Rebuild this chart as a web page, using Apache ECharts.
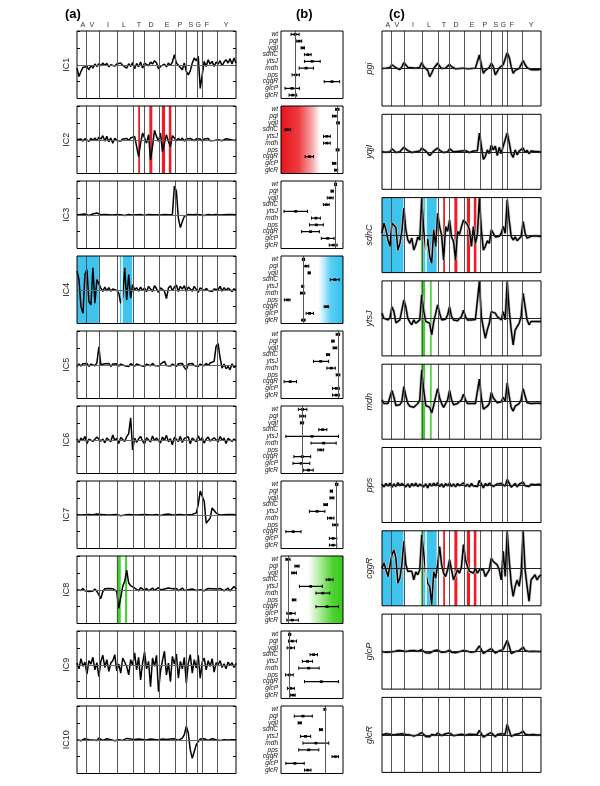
<!DOCTYPE html>
<html><head><meta charset="utf-8">
<script src="https://cdn.jsdelivr.net/npm/echarts@6/dist/echarts.min.js"></script>
<style>html,body{margin:0;padding:0;background:#fff}#c{width:600px;height:786px}</style>
</head><body><div id="c"></div>
<script>
// ---------- axis categories / ticks ----------
const residues = ['A','V','I','L','T','D','E','P','S','G','F','Y'];
const residueLabelPos = [2.9, 7.5, 15.6, 23.6, 31.2, 37.2, 45.3, 51.8, 57.3, 61, 65.4, 75];
const segmentBounds = [4.9, 11, 20, 28.4, 33.9, 41.2, 49.6, 55, 60.6, 63.1, 70.6];
const strains = ['wt','pgi','yqjI','sdhC','ytsJ','mdh','pps','cggR','glcP','glcR'];
const icNames = ['IC1','IC2','IC3','IC4','IC5','IC6','IC7','IC8','IC9','IC10'];
const cNames = ['pgi','yqjI','sdhC','ytsJ','mdh','pps','cggR','glcP','glcR'];

// ---------- (a) independent components ----------
const IC1 = [-0.10,-0.35,-0.20,-0.08,-0.12,-0.05,-0.15,-0.02,-0.10,0.02,
 -0.05,0.03,-0.03,0.05,-0.02,0.04,-0.06,0.00,0.03,-0.04,
 0.02,-0.03,0.05,-0.02,0.02,-0.10,0.03,-0.05,0.06,-0.12,
 0.04,-0.06,0.08,-0.10,0.05,0.10,-0.03,0.08,0.02,0.12,
 0.06,-0.12,-0.05,-0.10,0.02,-0.06,0.05,-0.02,0.08,0.30,
 0.05,0.02,-0.08,-0.15,0.05,-0.20,-0.30,-0.18,0.05,0.20,
 0.12,0.25,-0.70,-0.30,0.10,-0.05,0.15,0.02,0.10,-0.05,
 0.08,0.02,0.12,-0.03,0.08,0.15,0.05,0.18,0.02,0.20,
 0.05];
const IC2 = [0.00,-0.03,0.02,-0.04,0.03,0.00,-0.05,0.04,-0.02,0.05,
 -0.03,0.08,0.02,0.12,-0.04,0.10,-0.06,0.05,-0.10,0.04,
 -0.02,0.03,-0.04,0.02,-0.03,0.04,-0.02,0.05,0.02,0.10,
 0.05,-0.50,-0.10,0.20,0.05,-0.10,0.15,-0.60,-0.20,0.28,
 0.10,-0.05,0.20,-0.35,-0.10,0.15,-0.05,-0.20,0.12,0.05,
 -0.03,0.04,-0.02,0.05,-0.04,0.02,-0.03,0.04,0.00,-0.03,
 0.03,-0.02,0.02,-0.04,0.02,0.00,0.04,-0.03,0.02,-0.02,
 0.03,0.00,0.02,-0.03,0.02,0.03,-0.02,0.01,0.03,-0.02,
 0.00];
const IC3 = [0.00,-0.02,0.01,-0.01,0.02,0.00,-0.02,0.01,0.02,0.03,
 0.05,0.02,0.00,-0.01,0.01,-0.02,0.00,0.01,-0.01,0.00,
 0.01,-0.01,0.00,0.01,-0.02,0.00,0.01,0.00,-0.01,0.01,
 0.00,-0.01,0.01,0.00,-0.02,0.00,0.01,-0.01,0.00,0.01,
 0.00,-0.02,-0.01,0.00,0.01,-0.01,0.00,0.02,0.01,0.85,
 0.70,-0.10,-0.38,-0.20,-0.05,0.00,0.01,-0.01,0.00,0.02,
 0.01,-0.01,0.00,0.01,-0.02,0.00,0.01,0.00,-0.01,0.03,
 0.01,0.00,-0.01,0.01,0.00,-0.01,0.01,0.00,0.01,0.00,
 0.00];
const IC4 = [0.55,0.30,-0.50,-0.70,0.45,0.60,-0.35,-0.45,0.65,-0.40,
 0.30,0.35,0.05,-0.05,0.08,-0.03,0.06,-0.04,0.02,0.05,
 -0.02,-0.10,-0.40,-0.20,0.65,-0.30,0.45,-0.25,0.15,0.00,
 0.06,-0.04,0.08,-0.02,0.05,-0.06,0.10,0.02,-0.05,0.12,
 0.03,-0.08,0.06,0.10,-0.04,-0.26,0.05,0.12,-0.03,0.08,
 0.14,-0.05,0.10,0.02,0.12,-0.06,0.08,0.03,-0.04,0.10,
 0.05,-0.08,0.06,0.02,-0.03,0.04,-0.02,0.03,-0.05,0.02,
 0.04,0.00,0.10,-0.04,0.06,-0.02,0.05,0.00,-0.05,0.03,
 -0.02];
const IC5 = [-0.05,0.02,-0.04,0.03,-0.02,0.04,-0.05,0.02,0.03,-0.03,
 0.05,0.53,0.00,-0.04,0.03,-0.02,0.04,-0.05,0.02,-0.03,
 0.03,-0.04,0.02,0.05,-0.03,0.02,-0.05,0.03,0.00,-0.04,
 0.02,0.04,-0.02,0.03,-0.05,0.02,0.00,-0.03,0.04,-0.02,
 0.03,-0.04,0.02,0.05,0.10,-0.02,0.03,-0.04,0.02,0.00,
 -0.05,0.03,-0.02,0.04,-0.08,-0.15,0.02,-0.03,0.04,-0.02,
 0.03,-0.05,0.02,0.00,-0.03,0.04,-0.02,0.05,0.02,0.10,
 0.55,0.63,0.20,-0.10,0.02,-0.12,-0.05,-0.15,0.03,-0.08,
 -0.04];
const IC6 = [0.03,-0.08,0.05,-0.03,0.10,-0.12,0.02,0.06,-0.05,-0.10,
 0.08,0.12,-0.04,0.02,-0.09,0.05,0.00,-0.06,0.14,-0.02,
 0.04,-0.11,0.07,0.01,-0.05,0.09,0.18,0.65,-0.30,0.05,
 -0.08,0.03,0.10,-0.04,-0.12,0.06,0.02,-0.07,0.11,-0.03,
 0.05,0.00,-0.10,0.08,-0.02,0.13,-0.06,0.03,-0.15,0.07,
 0.02,-0.05,0.10,-0.08,0.04,-0.01,0.09,-0.12,0.05,0.00,
 -0.06,0.12,-0.03,0.07,-0.10,0.02,0.08,-0.04,-0.09,0.06,
 0.01,-0.07,0.10,-0.02,0.05,-0.11,0.04,0.08,-0.05,0.02,
 -0.03];
const IC7 = [0.00,0.02,-0.01,0.01,0.00,-0.02,0.01,0.03,0.00,-0.01,
 0.02,0.04,0.01,-0.02,0.00,0.01,-0.01,0.02,0.00,-0.02,
 0.01,0.00,-0.03,0.02,-0.01,0.00,0.01,-0.02,0.00,0.01,
 -0.01,0.02,0.00,-0.02,0.01,-0.01,0.00,0.02,-0.01,0.00,
 0.01,-0.04,-0.02,0.00,0.01,-0.01,0.02,0.00,-0.01,0.01,
 0.00,-0.02,0.01,0.00,-0.01,0.02,0.00,-0.01,0.01,0.02,
 0.05,0.30,0.70,0.65,0.40,-0.25,-0.30,-0.10,0.20,0.15,
 0.05,0.02,-0.01,0.01,0.00,-0.02,0.01,0.00,0.01,-0.01,
 0.00];
const IC8 = [0.00,0.03,-0.02,0.04,-0.03,0.02,-0.05,-0.08,-0.04,0.02,
 -0.05,-0.15,-0.26,-0.05,0.03,-0.02,0.04,-0.01,0.03,0.00,
 -0.05,-0.55,-0.60,0.10,0.25,0.58,0.20,0.12,0.15,0.05,
 0.10,-0.03,0.06,0.02,-0.02,0.04,-0.03,0.02,0.05,-0.02,
 0.03,0.06,-0.01,0.04,0.02,-0.03,0.05,0.00,0.03,-0.02,
 0.04,-0.03,0.02,0.05,-0.02,0.03,0.00,-0.04,0.02,0.04,
 -0.02,0.03,0.00,0.05,-0.03,0.02,0.04,-0.01,0.03,0.08,
 0.02,-0.02,0.04,0.00,-0.03,0.02,0.05,-0.04,0.03,0.10,
 0.02];
const IC9 = [0.05,-0.12,0.18,-0.05,0.08,-0.28,0.12,0.02,0.22,-0.15,
 0.06,-0.35,0.10,0.28,-0.08,0.15,-0.20,0.05,0.12,0.30,
 -0.18,0.02,-0.25,0.20,0.08,-0.05,-0.30,0.15,-0.02,0.35,
 -0.15,0.22,-0.45,0.05,0.38,-0.12,0.10,-0.65,0.20,-0.05,
 0.28,-0.80,-0.20,0.12,0.40,-0.30,0.05,-0.50,0.25,0.02,
 0.32,-0.40,0.10,-0.12,0.22,-0.55,0.05,0.30,-0.25,0.15,
 -0.10,0.28,-0.40,0.08,0.20,-0.15,0.12,-0.05,0.18,-0.22,
 0.06,0.00,0.12,-0.08,0.03,-0.12,0.08,-0.02,0.06,-0.08,
 0.04];
const IC10 = [0.00,0.02,-0.03,0.01,0.03,-0.02,0.00,0.02,-0.01,0.03,
 -0.02,0.05,0.00,-0.02,0.01,0.03,-0.01,0.00,0.02,-0.03,
 0.01,0.00,0.03,-0.02,0.01,0.04,0.08,0.02,-0.03,0.01,
 0.00,0.02,-0.02,0.01,0.03,-0.01,0.00,0.02,-0.02,0.01,
 0.03,-0.01,0.00,0.02,-0.03,0.01,0.00,0.02,-0.01,0.03,
 0.00,-0.02,0.01,0.05,0.15,0.40,0.20,-0.30,-0.55,-0.35,
 -0.15,-0.05,0.02,-0.01,0.03,0.00,-0.02,0.01,0.03,-0.01,
 0.00,0.02,-0.02,0.01,0.00,0.02,-0.01,0.01,0.00,0.02,
 0.00];

// ---------- (c) strain profiles ----------
const sig_pgi = [0.00,-0.02,0.01,0.00,0.03,0.10,0.06,0.02,0.00,-0.03,
 0.04,0.16,0.12,0.03,0.00,0.02,-0.02,0.01,0.00,0.03,
 0.16,0.05,0.02,-0.05,-0.22,-0.12,0.00,0.02,0.14,0.06,
 0.00,-0.02,0.01,0.03,0.11,0.05,0.00,-0.01,0.01,0.00,
 -0.02,0.01,0.00,-0.01,0.02,0.00,-0.01,0.01,0.02,0.36,
 0.10,-0.13,-0.05,0.00,0.03,0.14,0.05,-0.17,-0.08,0.02,
 0.06,0.10,0.05,0.42,0.30,0.05,-0.13,-0.05,-0.02,0.00,
 0.05,0.21,0.10,0.02,-0.02,-0.03,-0.02,-0.03,-0.02,-0.03,
 -0.02];
const sig_yqjI = [0.00,0.02,-0.01,0.03,0.00,0.08,0.04,-0.02,0.03,0.00,
 0.05,0.12,0.08,0.03,0.00,-0.02,0.01,0.00,-0.03,0.02,
 0.10,0.05,0.02,-0.03,-0.10,-0.05,0.02,0.00,0.10,0.04,
 0.02,-0.02,0.03,0.00,0.08,0.03,0.00,-0.01,0.01,0.00,
 0.02,-0.01,0.03,0.00,-0.02,0.01,0.02,0.00,0.03,0.50,
 0.15,-0.20,-0.12,0.05,-0.05,0.18,0.05,0.15,-0.10,0.12,
 -0.05,0.15,0.10,0.50,0.25,-0.05,-0.15,0.05,-0.08,0.02,
 0.05,0.10,-0.02,0.04,-0.05,0.02,-0.03,0.01,-0.02,0.00,
 -0.01];
const sig_sdhC = [0.05,0.32,0.14,-0.13,-0.30,0.32,0.28,0.20,-0.40,-0.22,
 0.10,0.72,0.14,-0.13,-0.22,-0.08,-0.40,-0.26,-0.05,-0.13,
 0.98,0.14,-0.40,-0.10,-0.57,-0.75,0.14,-0.30,0.58,0.23,
 0.00,-0.66,0.23,0.10,0.40,-0.05,-0.17,-0.66,0.10,0.02,
 0.23,0.40,0.36,0.28,0.14,-0.30,0.23,-0.22,0.02,0.98,
 0.14,-0.40,-0.30,-0.15,-0.22,0.14,0.10,-0.05,0.00,-0.03,
 0.05,0.23,0.05,0.94,0.40,-0.04,-0.13,-0.05,-0.15,-0.10,
 -0.04,0.36,0.05,-0.08,-0.04,-0.03,-0.05,-0.02,-0.04,-0.03,
 -0.04];
const sig_ytsJ = [0.14,0.00,-0.04,-0.04,0.02,0.31,0.18,-0.12,-0.13,-0.04,
 -0.02,0.49,0.30,0.00,-0.10,-0.17,-0.04,-0.13,-0.08,-0.04,
 0.63,0.20,-0.08,-0.10,-0.13,-0.44,-0.10,-0.06,0.36,0.14,
 -0.04,-0.08,-0.02,0.09,0.31,0.05,-0.04,-0.08,-0.06,-0.04,
 0.05,0.22,0.05,-0.04,-0.03,-0.04,-0.02,-0.03,0.00,0.98,
 0.05,-0.26,-0.53,-0.30,-0.13,0.18,0.18,0.14,0.05,0.00,
 -0.04,0.18,-0.04,0.98,0.22,-0.31,-0.71,-0.31,-0.22,-0.13,
 0.05,0.67,0.31,-0.04,-0.17,-0.08,-0.10,-0.08,-0.09,-0.08,
 -0.08];
const sig_mdh = [0.05,-0.05,-0.10,-0.05,0.00,0.30,0.12,-0.10,-0.15,-0.08,
 0.00,0.40,0.15,-0.05,-0.12,-0.08,-0.15,-0.10,-0.05,0.05,
 0.85,0.30,-0.10,-0.05,-0.15,-0.30,-0.10,-0.05,0.35,0.10,
 -0.05,-0.15,-0.05,0.05,0.30,0.05,-0.08,-0.10,-0.05,-0.03,
 0.05,0.20,0.05,-0.05,-0.06,-0.05,-0.04,-0.05,0.00,0.60,
 0.10,-0.20,-0.25,-0.12,-0.05,0.25,0.10,0.05,-0.03,-0.05,
 0.00,0.12,0.00,0.50,0.15,-0.15,-0.25,-0.12,-0.10,-0.05,
 0.05,0.35,0.15,-0.03,-0.08,-0.05,-0.06,-0.04,-0.05,-0.04,
 -0.05];
const sig_pps = [0.02,-0.05,0.04,-0.03,0.05,-0.06,0.03,-0.04,0.06,-0.02,
 0.04,0.08,-0.05,0.03,-0.06,0.04,-0.03,0.05,-0.04,0.02,
 0.06,-0.05,0.03,-0.08,0.04,-0.03,0.05,-0.02,0.06,-0.04,
 0.03,-0.06,0.04,-0.02,0.05,-0.04,0.03,-0.05,0.04,-0.02,
 0.03,0.06,-0.04,0.02,-0.05,0.04,-0.03,0.02,-0.04,0.12,
 0.03,-0.08,0.04,-0.02,0.05,0.08,-0.04,-0.06,0.03,-0.02,
 0.04,0.06,-0.03,0.15,0.05,-0.06,-0.03,0.04,-0.05,0.02,
 0.03,0.08,-0.02,0.03,-0.04,0.02,-0.03,0.01,-0.02,0.02,
 -0.01];
const sig_cggR = [0.00,0.14,-0.04,-0.22,-0.26,0.36,0.49,0.27,-0.40,-0.26,
 0.10,0.72,0.10,-0.08,-0.13,-0.08,-0.31,-0.10,-0.17,-0.04,
 0.89,0.40,-0.13,-0.40,-0.48,-0.97,-0.10,-0.26,0.10,0.58,
 0.09,-0.13,-0.22,-0.04,0.23,-0.04,-0.31,-0.26,-0.04,-0.13,
 0.05,0.63,0.23,0.05,-0.08,-0.04,-0.13,0.00,-0.13,-0.04,
 -0.08,-0.04,-0.22,-0.13,-0.04,0.27,0.18,0.14,0.09,-0.04,
 -0.31,0.45,-0.22,0.98,0.23,-0.40,-0.75,-0.48,-0.31,-0.48,
 -0.13,0.98,-0.04,-0.48,-0.88,-0.31,-0.26,-0.17,-0.31,-0.22,
 -0.17];
const sig_glcP = [0.00,0.02,-0.02,0.03,-0.01,0.04,0.00,-0.02,0.03,-0.01,
 0.02,0.05,0.00,-0.03,0.02,-0.01,0.03,-0.02,0.01,0.00,
 0.05,0.00,-0.03,0.02,-0.04,0.01,0.02,-0.02,0.04,0.00,
 -0.02,0.03,-0.01,0.02,0.04,-0.02,0.01,-0.03,0.02,0.00,
 0.01,0.03,-0.02,0.01,0.00,-0.02,0.02,0.00,0.01,0.15,
 0.05,-0.05,-0.03,0.02,0.00,0.08,0.03,-0.04,0.00,0.02,
 0.04,0.06,0.03,0.30,0.15,-0.05,-0.08,0.00,-0.03,0.02,
 0.05,0.12,0.03,-0.02,0.00,-0.03,0.01,-0.02,0.00,-0.01,
 0.00];
const sig_glcR = [0.00,-0.02,0.03,-0.01,0.02,0.05,0.00,-0.03,0.02,0.00,
 0.03,0.06,0.01,-0.02,0.00,0.02,-0.03,0.01,0.00,-0.02,
 0.06,0.02,-0.04,0.00,-0.05,0.01,0.03,-0.01,0.05,0.00,
 -0.02,0.01,0.03,-0.01,0.05,0.00,-0.02,0.01,0.00,-0.01,
 0.02,0.04,-0.01,0.00,0.02,-0.02,0.01,0.00,0.02,0.12,
 0.03,-0.06,-0.02,0.01,0.00,0.06,0.02,-0.05,0.01,0.00,
 0.03,0.05,0.02,0.28,0.12,-0.04,-0.06,0.01,-0.02,0.03,
 0.04,0.10,0.02,-0.03,0.00,-0.02,0.01,-0.01,0.00,-0.02,
 0.00];

// ---------- (b) strain scores per component: centre, low, high ----------
const b1_mid = [22.7,29.2,35.1,43.2,50.3,40.5,23.8,82.2,17.8,18.9];
const b1_lo  = [16.2,25.4,32.4,37.8,37.8,29.2,17.8,69.7,6.5,13.0];
const b1_hi  = [29.2,33.5,37.8,48.6,63.2,52.4,29.7,94.6,29.7,25.4];
const b2_mid = [90.8,87.0,92.0,10.8,74.0,74.0,91.4,46.0,85.7,89.0];
const b2_lo  = [88.0,83.0,90.0,6.5,68.6,68.6,89.0,38.9,83.0,86.5];
const b2_hi  = [93.5,91.0,94.0,15.7,79.5,79.5,93.5,52.4,88.5,91.5];
const b3_mid = [88.0,82.5,79.4,73.0,23.8,56.3,57.0,47.6,75.4,84.1];
const b3_lo  = [86.5,81.0,74.6,68.3,4.8,49.2,46.0,33.3,65.0,77.8];
const b3_hi  = [89.5,84.0,84.1,77.8,42.9,63.5,68.3,61.9,85.7,90.5];
const b4_mid = [36.2,40.5,45.4,87.0,35.0,34.6,10.3,73.5,46.0,36.2];
const b4_lo  = [34.5,36.2,44.0,79.5,34.0,31.4,5.4,69.7,40.5,33.5];
const b4_hi  = [38.0,44.9,47.0,94.0,36.5,38.4,14.6,76.8,52.4,38.9];
const b5_mid = [92.0,83.8,87.0,75.7,64.0,81.0,92.0,15.0,89.0,89.0];
const b5_lo  = [89.0,82.0,84.0,73.5,52.4,74.0,89.0,5.0,83.0,83.0];
const b5_hi  = [94.6,85.5,90.0,78.5,76.8,87.6,95.0,25.0,94.0,94.0];
const b6_mid = [34.9,34.9,33.9,67.2,50.0,68.8,64.0,34.4,32.8,44.3];
const b6_lo  = [28.0,30.2,31.3,61.0,7.8,48.4,59.4,20.8,19.3,36.0];
const b6_hi  = [41.7,39.6,36.5,74.0,92.7,89.0,68.8,47.9,46.4,52.0];
const b7_mid = [89.6,81.3,82.3,71.9,58.3,80.2,87.5,19.8,83.9,83.9];
const b7_lo  = [88.0,79.5,78.9,69.0,45.8,75.0,83.3,7.8,78.0,78.0];
const b7_hi  = [91.7,83.0,85.4,75.0,70.8,85.4,91.7,32.3,90.0,90.0];
const b8_mid = [10.9,26.0,20.8,78.0,48.0,67.2,20.8,74.5,15.6,18.2];
const b8_lo  = [7.8,22.4,17.2,72.9,29.7,56.3,18.2,56.3,9.4,9.4];
const b8_hi  = [14.6,29.2,25.0,83.9,66.7,78.6,24.0,92.7,22.9,28.0];
const b9_mid = [14.0,18.2,15.6,52.6,42.7,44.8,13.5,65.0,15.6,19.3];
const b9_lo  = [12.5,12.0,9.9,46.9,34.4,28.6,7.3,38.0,10.4,15.1];
const b9_hi  = [15.6,25.0,21.9,58.9,51.0,61.5,19.8,92.7,21.4,22.9];
const b10_mid = [70.8,35.4,30.2,64.0,39.6,56.3,44.8,87.5,22.4,43.2];
const b10_lo  = [70.0,21.4,27.6,62.0,31.3,35.4,28.6,82.3,7.8,38.0];
const b10_hi  = [71.6,50.5,32.8,66.7,47.9,77.0,61.0,92.7,37.5,48.4];

// ---------- highlighted ranges (x units) ----------
const redBands = [[30.8,31.7],[36.4,37.9],[42.7,44.3],[46.2,47.5]];
const ic4BlueBands = [[0,11],[21.6,27.8]];
const ic4WhiteLines = [22.5];
const ic8GreenBands = [[20,22],[24.2,25.2]];
const cBlueBands = [[0,10.8],[20.8,27.5]];
const cGreenNarrow = [[19.7,20.8]];
const cWhiteLines = [22.2];
const cGreenWide = [[19.7,21.7],[24.2,25]];
const b2Range = [0, 63];
const b4Range = [60, 100];
const b8Range = [44, 100];

// ---------- build ----------
const FONT = '"Liberation Sans", Arial, Helvetica, sans-serif';
const RED = '#ee1c25', BLUE = '#3fc4ef', GREEN = '#3cd42a';
const chart = echarts.init(document.getElementById('c'), null, {renderer:'canvas', width:600, height:786});
const grids = [], xAxes = [], yAxes = [], series = [];

function addGrid(g){
  grids.push(Object.assign({show:true, borderColor:'#000', borderWidth:1, backgroundColor:'transparent', z:10}, g));
  return grids.length - 1;
}
function topLabelAxis(g){
  return {gridIndex:g, type:'value', min:0, max:80, position:'top', show:true,
    axisLine:{show:false}, axisTick:{show:false}, splitLine:{show:false},
    axisLabel:{show:true, customValues: residueLabelPos, fontSize:7, margin:2, color:'#333', fontFamily:FONT,
      formatter: v => { let best=0; residueLabelPos.forEach((p,k)=>{ if(Math.abs(p-v)<Math.abs(residueLabelPos[best]-v)) best=k; }); return residues[best]; }}};
}
function addTracePanel(g, sig, bandSets, whites, name, isC, showTop){
  xAxes.push(showTop ? topLabelAxis(g) : {gridIndex:g, type:'value', min:0, max:80, show:false});
  const xi = xAxes.length - 1;
  yAxes.push({gridIndex:g, type:'value', min:-1, max:1, interval:0.5, position:'left',
    axisLine:{show:false}, axisLabel:{show:false}, splitLine:{show:false},
    axisTick:{show:!isC, inside:true, length:3, lineStyle:{color:'#000'}},
    name:name, nameLocation:'middle', nameRotate:90, nameGap: isC ? 8 : 6,
    nameTextStyle:{fontSize:9, color:'#222', fontFamily:FONT, fontStyle: isC ? 'italic' : 'normal'}});
  const yi = yAxes.length - 1;
  if(!isC){
    yAxes.push({gridIndex:g, type:'value', min:-1, max:1, interval:0.5, position:'right',
      axisLine:{show:false}, axisLabel:{show:false}, splitLine:{show:false},
      axisTick:{show:true, inside:true, length:3, lineStyle:{color:'#000'}}});
  }
  const areaData = [];
  bandSets.forEach(bs => bs.bands.forEach(b => areaData.push([{xAxis:b[0], itemStyle:{color:bs.color}}, {xAxis:b[1]}])));
  series.push({type:'line', xAxisIndex:xi, yAxisIndex:yi, data:[], z:1, silent:true,
    markArea:{silent:true, data:areaData}});
  const lineData = segmentBounds.map(b => ({xAxis:b, lineStyle:{color:'#555', width:1, type:'solid'}}));
  whites.forEach(w => lineData.push({xAxis:w, lineStyle:{color:'#fff', width:1.5, type:'solid'}}));
  lineData.push({yAxis:0, lineStyle:{color: isC ? '#222' : '#666', width:1, type:'solid'}});
  series.push({type:'line', xAxisIndex:xi, yAxisIndex:yi, data:[], z:2, silent:true,
    markLine:{silent:true, symbol:['none','none'], label:{show:false}, data:lineData}});
  const pts = sig.map((v,i) => [i, v]);
  if(isC){
    series.push({type:'line', xAxisIndex:xi, yAxisIndex:yi, data:pts, showSymbol:false, silent:true, z:3,
      lineStyle:{color:'#c8c8c8', width:3}});
  }
  series.push({type:'line', xAxisIndex:xi, yAxisIndex:yi, data:pts, showSymbol:false, silent:true, z:4,
    lineStyle:{color:'#000', width:1.5}});
}
function renderErr(params, api){
  const k = api.value(3);
  const p1 = api.coord([api.value(0), k]);
  const p2 = api.coord([api.value(1), k]);
  const pm = api.coord([api.value(2), k]);
  const h = 1.6;
  return {type:'group', children:[
    {type:'line', shape:{x1:p1[0], y1:p1[1], x2:p2[0], y2:p2[1]}, style:{stroke:'#000', lineWidth:1.2}},
    {type:'line', shape:{x1:p1[0], y1:p1[1]-h, x2:p1[0], y2:p1[1]+h}, style:{stroke:'#000', lineWidth:1}},
    {type:'line', shape:{x1:p2[0], y1:p2[1]-h, x2:p2[0], y2:p2[1]+h}, style:{stroke:'#000', lineWidth:1}},
    {type:'rect', shape:{x:pm[0]-1.5, y:pm[1]-1.3, width:3, height:2.6}, style:{fill:'#000'}}
  ]};
}
function addErrPanel(g, mid, lo, hi, range, stops){
  xAxes.push({gridIndex:g, type:'value', min:0, max:100, show:false});
  const xi = xAxes.length - 1;
  yAxes.push({gridIndex:g, type:'category', data:strains, inverse:true,
    axisLine:{show:false}, axisTick:{show:false}, splitLine:{show:false},
    axisLabel:{fontSize:6.5, fontStyle:'italic', margin:3, color:'#111', fontFamily:FONT, interval:0}});
  const yi = yAxes.length - 1;
  const area = range ? [[{xAxis:range[0], itemStyle:{color:new echarts.graphic.LinearGradient(0,0,1,0,stops)}}, {xAxis:range[1]}]] : [];
  series.push({type:'line', xAxisIndex:xi, yAxisIndex:yi, data:[], z:1, silent:true,
    markArea:{silent:true, data:area},
    markLine:{silent:true, symbol:['none','none'], label:{show:false},
      data:[{xAxis: mid[0], lineStyle:{color:'#555', width:1, type:'solid'}}]}});
  series.push({type:'custom', xAxisIndex:xi, yAxisIndex:yi, silent:true, z:4,
    data: strains.map((s,k) => [lo[k], hi[k], mid[k], k]),
    encode:{x:[0,1,2], y:3}, renderItem: renderErr});
}

// (a)
const icSignals = [IC1,IC2,IC3,IC4,IC5,IC6,IC7,IC8,IC9,IC10];
const icBandSets = {1:[{bands:redBands, color:RED}], 3:[{bands:ic4BlueBands, color:BLUE}], 7:[{bands:ic8GreenBands, color:GREEN}]};
const icWhites = {3: ic4WhiteLines};
icSignals.forEach((sig,i) => {
  const g = addGrid({left:77, top:31 + 75*i, width:159, height:67.5});
  addTracePanel(g, sig, icBandSets[i] || [], icWhites[i] || [], icNames[i], false, i === 0);
});
// (b)
const bMid = [b1_mid,b2_mid,b3_mid,b4_mid,b5_mid,b6_mid,b7_mid,b8_mid,b9_mid,b10_mid];
const bLo  = [b1_lo,b2_lo,b3_lo,b4_lo,b5_lo,b6_lo,b7_lo,b8_lo,b9_lo,b10_lo];
const bHi  = [b1_hi,b2_hi,b3_hi,b4_hi,b5_hi,b6_hi,b7_hi,b8_hi,b9_hi,b10_hi];
const bShade = {
  1: {range:b2Range, stops:[{offset:0,color:'#e8141c'},{offset:0.45,color:'#ee3a40'},{offset:0.8,color:'#f7a9ab'},{offset:1,color:'#ffffff'}]},
  3: {range:b4Range, stops:[{offset:0,color:'#ffffff'},{offset:0.2,color:'#c4edfb'},{offset:0.5,color:'#5ccff4'},{offset:1,color:'#30c0ee'}]},
  7: {range:b8Range, stops:[{offset:0,color:'#ffffff'},{offset:0.35,color:'#a8eb96'},{offset:0.7,color:'#4fd232'},{offset:1,color:'#38c81e'}]}
};
bMid.forEach((m,i) => {
  const g = addGrid({left:281, top:31 + 75*i, width:62, height:67.5});
  const sh = bShade[i];
  addErrPanel(g, m, bLo[i], bHi[i], sh ? sh.range : null, sh ? sh.stops : null);
});
// (c)
const cSignals = [sig_pgi,sig_yqjI,sig_sdhC,sig_ytsJ,sig_mdh,sig_pps,sig_cggR,sig_glcP,sig_glcR];
const cFull = [{bands:cBlueBands, color:BLUE},{bands:cGreenNarrow, color:GREEN},{bands:redBands, color:RED}];
const cGreen = [{bands:cGreenWide, color:GREEN}];
const cBandSets = {2:cFull, 3:cGreen, 4:cGreen, 6:cFull};
const cWhites = {2:cWhiteLines, 6:cWhiteLines};
cSignals.forEach((sig,j) => {
  const g = addGrid({left:382, top:31 + 83.3*j, width:159, height:75});
  addTracePanel(g, sig, cBandSets[j] || [], cWhites[j] || [], cNames[j], true, j === 0);
});

chart.setOption({
  animation:false,
  backgroundColor:'#fff',
  textStyle:{fontFamily:FONT},
  title:[
    {text:'(a)', left:60, top:3, textStyle:{fontSize:13, fontWeight:'bold', color:'#000', fontFamily:FONT}},
    {text:'(b)', left:291, top:3, textStyle:{fontSize:13, fontWeight:'bold', color:'#000', fontFamily:FONT}},
    {text:'(c)', left:384, top:3, textStyle:{fontSize:13, fontWeight:'bold', color:'#000', fontFamily:FONT}}
  ],
  grid:grids, xAxis:xAxes, yAxis:yAxes, series:series
});
</script></body></html>
